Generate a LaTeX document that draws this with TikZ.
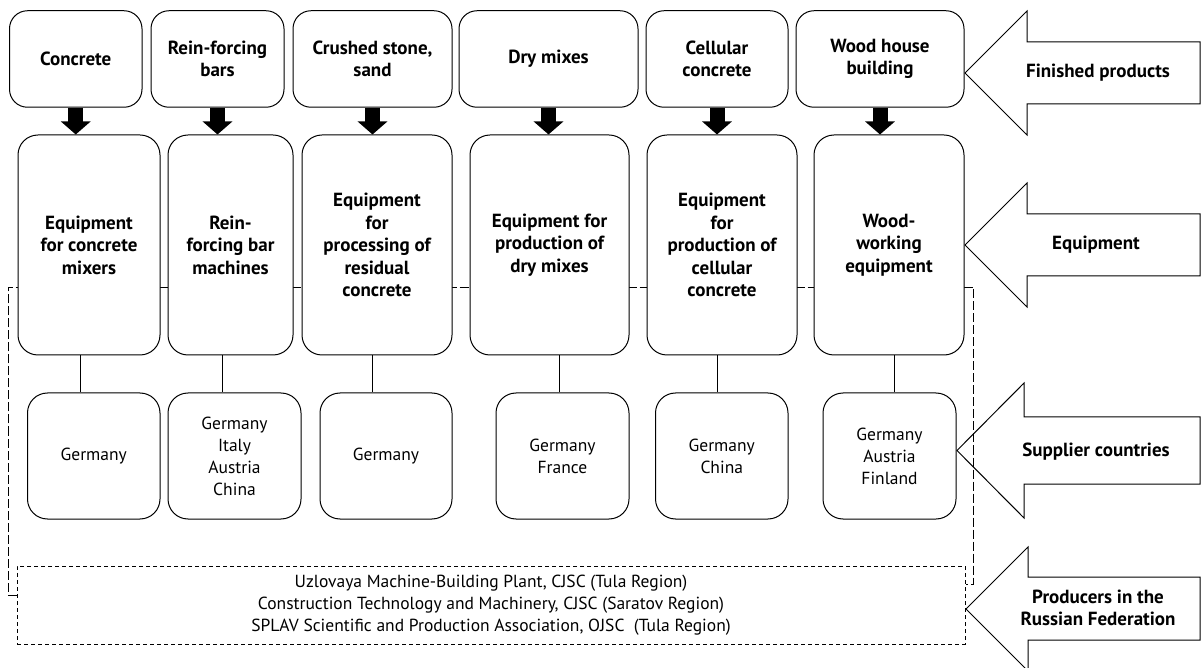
\documentclass[tikz,border=0pt]{standalone}
\usepackage{fontspec}
\setmainfont{PT Sans}
\usetikzlibrary{arrows.meta,backgrounds}
\newcommand\diafont{\fontsize{17.5}{22}\selectfont}
\newcommand\headfont{\fontsize{19}{22.5}\selectfont\bfseries}

\begin{document}
\begin{tikzpicture}[
    x = 1pt, y = 1pt,
    line width = 1pt,
    box/.style = {draw, fill = white, align = center, font = \diafont, inner sep = 2pt},
    product/.style = {box, font = \headfont, rounded corners = 18pt, minimum height = 96.5pt},
    equipment/.style = {box, font = \headfont, rounded corners = 20pt, minimum height = 220pt},
    supplier/.style = {box, rounded corners = 20pt, minimum height = 126pt},
    producers/.style = {draw, dash pattern = on 4pt off 3pt, align = center, font = \diafont,
                        minimum width = 948pt, minimum height = 78pt},
    groupline/.style = {dash pattern = on 9pt off 3pt},
    feed/.style = {line width = 15pt, -{Triangle[width = 29pt, length = 13pt]}},
    bigarrow/.style = {draw, line join = miter},
    caption/.style = {font = \headfont, align = center}
  ]
  \useasboundingbox (0,0) rectangle (1201,667);

  % Finished products
  \node[product, minimum width = 132.5pt] (B1) at (75.75,608) {Concrete};
  \node[product, minimum width = 133pt]   (B2) at (217.5,608) {Rein-forcing\\bars};
  \node[product, minimum width = 159pt]   (B3) at (372.5,608) {Crushed stone,\\sand};
  \node[product, minimum width = 179pt]   (B4) at (548.5,608) {Dry mixes};
  \node[product, minimum width = 142pt]   (B5) at (717,608)   {Cellular\\concrete};
  \node[product, minimum width = 168pt]   (B6) at (880,608)   {Wood house\\building};

  % Equipment
  \node[equipment, minimum width = 142pt] (E1) at (89,422)    {Equipment\\for concrete\\mixers};
  \node[equipment, minimum width = 125pt] (E2) at (230.5,422) {Rein-\\forcing bar\\machines};
  \node[equipment, minimum width = 150pt] (E3) at (377,422)   {Equipment\\for\\processing of\\residual\\concrete};
  \node[equipment, minimum width = 159pt] (E4) at (549.5,422) {Equipment for\\production of\\dry mixes};
  \node[equipment, minimum width = 150pt] (E5) at (722,422)   {Equipment\\for\\production of\\cellular\\concrete};
  \node[equipment, minimum width = 150pt] (E6) at (889,422)   {Wood-\\working\\equipment};

  % Supplier countries
  \node[supplier, minimum width = 132.5pt] (C1) at (93.75,211)  {Germany};
  \node[supplier, minimum width = 133pt]   (C2) at (234.5,211)  {Germany\\Italy\\Austria\\China};
  \node[supplier, minimum width = 132pt]   (C3) at (386,211)    {Germany};
  \node[supplier, minimum width = 133pt]   (C4) at (562.5,211)  {Germany\\France};
  \node[supplier, minimum width = 132.5pt] (C5) at (721.75,211) {Germany\\China};
  \node[supplier, minimum width = 133pt]   (C6) at (889.5,211)  {Germany\\Austria\\Finland};

  % Producers
  \node[producers] (P) at (491,62) {Uzlovaya Machine-Building Plant, CJSC (Tula Region)\\
    Construction Technology and Machinery, CJSC (Saratov Region)\\
    SPLAV Scientific and Production Association, OJSC\ \ (Tula Region)};

  % Links
  \draw[feed] (B1.south) -- (B1.south |- E1.north);
  \draw[feed] (B2.south) -- (B2.south |- E2.north);
  \draw[feed] (B3.south) -- (B3.south |- E3.north);
  \draw[feed] (B4.south) -- (B4.south |- E4.north);
  \draw[feed] (B5.south) -- (B5.south |- E5.north);
  \draw[feed] (B6.south) -- (B6.south |- E6.north);
  \draw ([xshift = -9pt]E1.south) -- ([xshift = -9pt]E1.south |- C1.north);
  \draw ([xshift = -8.5pt]E2.south) -- ([xshift = -8.5pt]E2.south |- C2.north);
  \draw ([xshift = -5pt]E3.south) -- ([xshift = -5pt]E3.south |- C3.north);
  \draw ([xshift = 9.5pt]E4.south) -- ([xshift = 9.5pt]E4.south |- C4.north);
  \draw ([xshift = -4.5pt]E5.south) -- ([xshift = -4.5pt]E5.south |- C5.north);
  \draw ([xshift = 5pt]E6.south) -- ([xshift = 5pt]E6.south |- C6.north);

  % Level arrows
  \draw[bigarrow] (965,594) -- (1027,656) -- (1027,625) -- (1200,625)
    -- (1200,563) -- (1027,563) -- (1027,532) -- cycle;
  \draw[bigarrow] (965,422) -- (1027,484) -- (1027,453) -- (1200,453)
    -- (1200,391) -- (1027,391) -- (1027,360) -- cycle;
  \draw[bigarrow] (957,216.5) -- (1024,284) -- (1024,250) -- (1200,250)
    -- (1200,183) -- (1024,183) -- (1024,149) -- cycle;
  \draw[bigarrow] (966,58) -- (1028,120) -- (1028,90) -- (1200,90)
    -- (1200,27) -- (1028,27) -- (1028,-4) -- cycle;
  \node[caption] (L1) at (1098,594) {Finished products};
  \node[caption] (L2) at (1096,422) {Equipment};
  \node[caption] (L3) at (1096,215) {Supplier countries};
  \node[caption] (L4) at (1098,59)  {Producers in the\\Russian Federation};

  % Imported equipment group
  \begin{scope}[on background layer]
    \draw[groupline] ([yshift = 10pt]P.west) -| (8,380) -| (973,83) -- ([yshift = 21pt]P.east);
  \end{scope}
\end{tikzpicture}
\end{document}
